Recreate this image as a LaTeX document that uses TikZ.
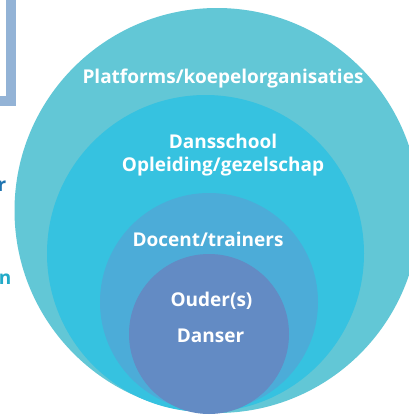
\documentclass[tikz,border=0pt]{standalone}
\usepackage{fontspec}
\setmainfont{Open Sans}
\definecolor{ring1}{RGB}{98,199,214}
\definecolor{ring2}{RGB}{54,194,224}
\definecolor{ring3}{RGB}{76,172,216}
\definecolor{ring4}{RGB}{99,139,196}
\definecolor{framec}{RGB}{147,179,214}
\definecolor{darkb}{RGB}{31,116,176}
\definecolor{tealb}{RGB}{34,170,200}
\begin{document}
\begin{tikzpicture}[x=1pt,y=-1pt,
  lbl/.style={text=white,font=\fontsize{19}{22}\selectfont\bfseries,inner sep=0pt,align=center},
  side/.style={font=\fontsize{19}{22}\selectfont\bfseries,inner sep=0pt}]
\useasboundingbox (0,0) rectangle (409,415);
\clip (0,0) rectangle (409,415);
\fill[white] (0,0) rectangle (409,415);
\draw[framec,line width=10pt] (-30,-30) rectangle (11,101);
\node[side,text=darkb,anchor=east] (r) at (6.5,186) {r};
\node[side,text=tealb,anchor=east] (n) at (11.5,279) {n};
\node[circle,fill=ring1,minimum size=405pt,inner sep=0pt] (c1) at (217,210.5) {};
\node[circle,fill=ring2,minimum size=317pt,inner sep=0pt] (c2) at (205.5,253.5) {};
\node[circle,fill=ring3,minimum size=218pt,inner sep=0pt] (c3) at (209,302) {};
\node[circle,fill=ring4,minimum size=160pt,inner sep=0pt] (c4) at (209,334) {};
\node[lbl] (t1) at (223,79) {Platforms/koepelorganisaties};
\node[lbl] (t2) at (223,141) {Dansschool};
\node[lbl] (t3) at (223,167) {Opleiding/gezelschap};
\node[lbl] (t4) at (208,239) {Docent/trainers};
\node[lbl] (t5) at (211.5,301) {Ouder(s)};
\node[lbl] (t6) at (210.5,336) {Danser};
\end{tikzpicture}
\end{document}
